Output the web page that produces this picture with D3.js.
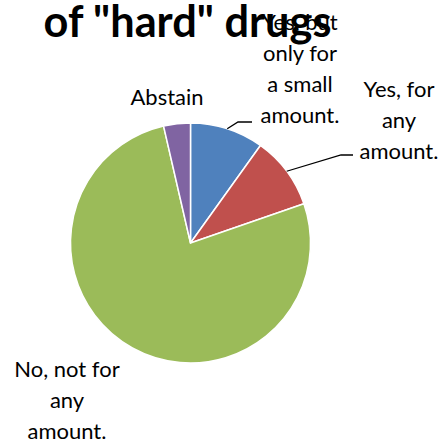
<!DOCTYPE html>
<html>
<head>
<meta charset="utf-8">
<script src="https://cdn.jsdelivr.net/npm/d3@7"></script>
<style>
  html, body { margin: 0; padding: 0; background: #fff; }
  svg { display: block; }
</style>
</head>
<body>
<svg id="chart" width="443" height="441"></svg>
<script>
// ---- Data ----
const categories = ["Yes, but only for a small amount.", "Yes, for any amount.", "No, not for any amount.", "Abstain"];
const values = [9.9, 9.8, 76.7, 3.6];
const labelLines = [
  ["Yes, but", "only for", "a small", "amount."],
  ["Yes, for", "any", "amount."],
  ["No, not for", "any", "amount."],
  ["Abstain"]
];
const colors = ["#4F81BD", "#C0504D", "#9BBB59", "#8064A2"];
const titleText = 'of "hard" drugs';

// ---- Layout ----
const W = 443, H = 441;
const cx = 190.5, cy = 243, R = 120;
const fontFam = "Lato, 'Open Sans', sans-serif";

const svg = d3.select("#chart");

// helper: fit font size to a target width
function fitSize(text, weight, targetW, base) {
  const t = svg.append("text").attr("font-family", fontFam).attr("font-weight", weight)
    .attr("font-size", base).text(text);
  const w = t.node().getComputedTextLength();
  t.remove();
  return base * targetW / w;
}

const labelSize = fitSize("Abstain", "normal", 73, 20);
const titleSize = fitSize(titleText, "bold", 288, 30);

const data = categories.map((c, i) => ({ cat: c, value: values[i], lines: labelLines[i], color: colors[i] }));

const pie = d3.pie().sort(null).value(d => d.value);
const arcs = pie(data);
const arc = d3.arc().innerRadius(0).outerRadius(R);

const g = svg.append("g").attr("transform", `translate(${cx},${cy})`);
g.selectAll("path.slice").data(arcs).enter().append("path")
  .attr("class", "slice")
  .attr("d", arc)
  .attr("fill", d => d.data.color)
  .attr("stroke", "#fff")
  .attr("stroke-width", 1.5)
  .attr("stroke-linejoin", "round");

// label placements (center x, first baseline y), line height
const lh = 31;
const labelPos = [
  { x: 300, y: 30 },
  { x: 399, y: 97 },
  { x: 67, y: 377 },
  { x: 167, y: 105 }
];

// title (behind labels, as in reference the label overlaps title)
svg.append("text")
  .attr("x", 187.5).attr("y", 37)
  .attr("text-anchor", "middle")
  .attr("font-family", fontFam).attr("font-weight", "bold")
  .attr("font-size", titleSize)
  .attr("fill", "#000")
  .text(titleText);

const lab = svg.selectAll("text.lab").data(arcs).enter().append("text")
  .attr("class", "lab")
  .attr("text-anchor", "middle")
  .attr("font-family", fontFam)
  .attr("font-size", labelSize)
  .attr("fill", "#000");
lab.each(function(d, i) {
  const p = labelPos[i];
  d3.select(this).selectAll("tspan").data(d.data.lines).enter().append("tspan")
    .attr("x", p.x).attr("y", (l, j) => p.y + j * lh).text(l => l);
});

// leader lines for the two small "yes" slices
const leaderEnds = [
  { mid: [238, 122], end: [252, 122] },
  { mid: [341, 155], end: [353, 155] }
];
const leaderArc = d3.arc().innerRadius(R).outerRadius(R);
leaderEnds.forEach((le, i) => {
  const a = arcs[i];
  const mid = (a.startAngle + a.endAngle) / 2;
  const sx = cx + R * Math.sin(mid), sy = cy - R * Math.cos(mid);
  svg.append("path")
    .attr("d", d3.line()([[sx, sy], le.mid, le.end]))
    .attr("fill", "none").attr("stroke", "#000").attr("stroke-width", 1.3);
});
</script>
</body>
</html>
